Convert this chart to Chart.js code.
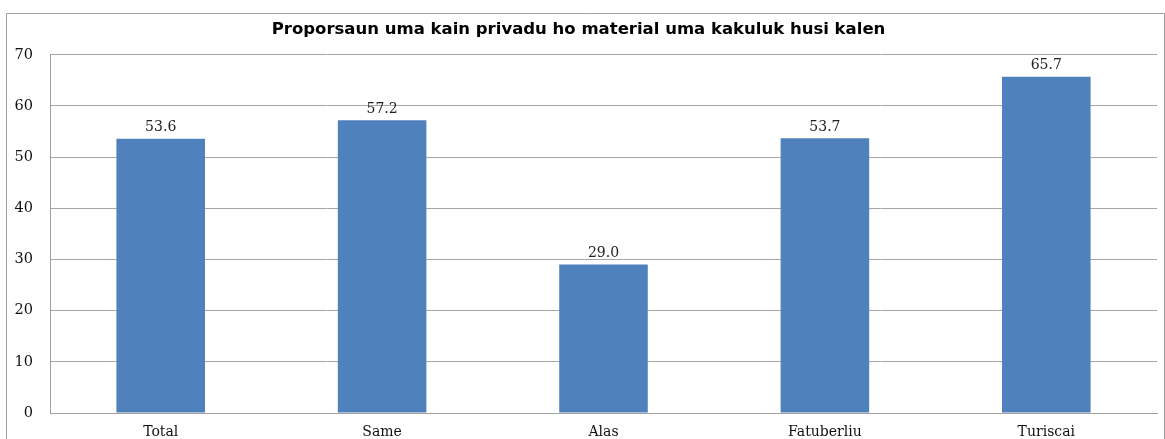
<!DOCTYPE html>
<html>
<head>
<meta charset="utf-8">
<script src="https://cdn.jsdelivr.net/npm/chart.js@4/dist/chart.umd.min.js"></script>
<style>
  html, body { margin: 0; padding: 0; background: #fff; }
  #wrap { width: 1165px; height: 439px; }
</style>
</head>
<body>
<div id="wrap"><canvas id="chart"></canvas></div>
<script>
const categories = ["Total", "Same", "Alas", "Fatuberliu", "Turiscai"];
const values = [53.6, 57.2, 29.0, 53.7, 65.7];
const yTicks = [0, 10, 20, 30, 40, 50, 60, 70];

const serif = "'DejaVu Serif', 'Liberation Serif', serif";

// outer frame round the whole chart, like the Excel chart area
const framePlugin = {
  id: 'frame',
  afterDraw(chart) {
    const ctx = chart.ctx;
    ctx.save();
    ctx.strokeStyle = '#a0a0a0';
    ctx.lineWidth = 1;
    ctx.beginPath();
    ctx.moveTo(6.5, 439);
    ctx.lineTo(6.5, 13.5);
    ctx.lineTo(1164.5, 13.5);
    ctx.lineTo(1164.5, 439);
    ctx.stroke();
    ctx.restore();
  }
};

// value labels above each bar
const valueLabels = {
  id: 'valueLabels',
  afterDatasetsDraw(chart) {
    const ctx = chart.ctx;
    const meta = chart.getDatasetMeta(0);
    ctx.save();
    ctx.font = '14px ' + serif;
    ctx.fillStyle = '#222';
    ctx.textAlign = 'center';
    ctx.textBaseline = 'bottom';
    meta.data.forEach((bar, i) => {
      ctx.fillText(values[i].toFixed(1), bar.x, bar.y - 4);
    });
    ctx.restore();
  }
};

new Chart(document.getElementById("chart"), {
  type: 'bar',
  data: {
    labels: categories,
    datasets: [{
      data: values,
      backgroundColor: '#4F81BD',
      barPercentage: 0.4,
      categoryPercentage: 1.0
    }]
  },
  options: {
    responsive: true,
    maintainAspectRatio: false,
    animation: false,
    layout: { padding: { top: 20, left: 0, right: 8, bottom: 0 } },
    plugins: {
      legend: { display: false },
      tooltip: { enabled: false },
      title: {
        display: true,
        text: 'Proporsaun uma kain privadu ho material uma kakuluk husi kalen',
        color: '#000',
        font: { family: "'DejaVu Sans', sans-serif", size: 16.5, weight: 'bold', lineHeight: 1.2 },
        padding: { top: 0, bottom: 15 }
      }
    },
    scales: {
      x: {
        grid: { display: false, drawTicks: false },
        border: { display: true, color: '#a0a0a0' },
        ticks: { color: '#111', font: { family: serif, size: 14 }, padding: 11 },
        afterFit(scale) { scale.height = 26; }
      },
      y: {
        min: 0,
        max: 70,
        afterBuildTicks(scale) { scale.ticks = yTicks.map(v => ({ value: v })); },
        grid: { color: '#a6a6a6', drawTicks: false },
        border: { display: true, color: '#a0a0a0' },
        ticks: { color: '#111', font: { family: serif, size: 14.5 }, padding: 17 },
        afterFit(scale) { scale.width = 50; }
      }
    }
  },
  plugins: [framePlugin, valueLabels]
});
</script>
</body>
</html>
